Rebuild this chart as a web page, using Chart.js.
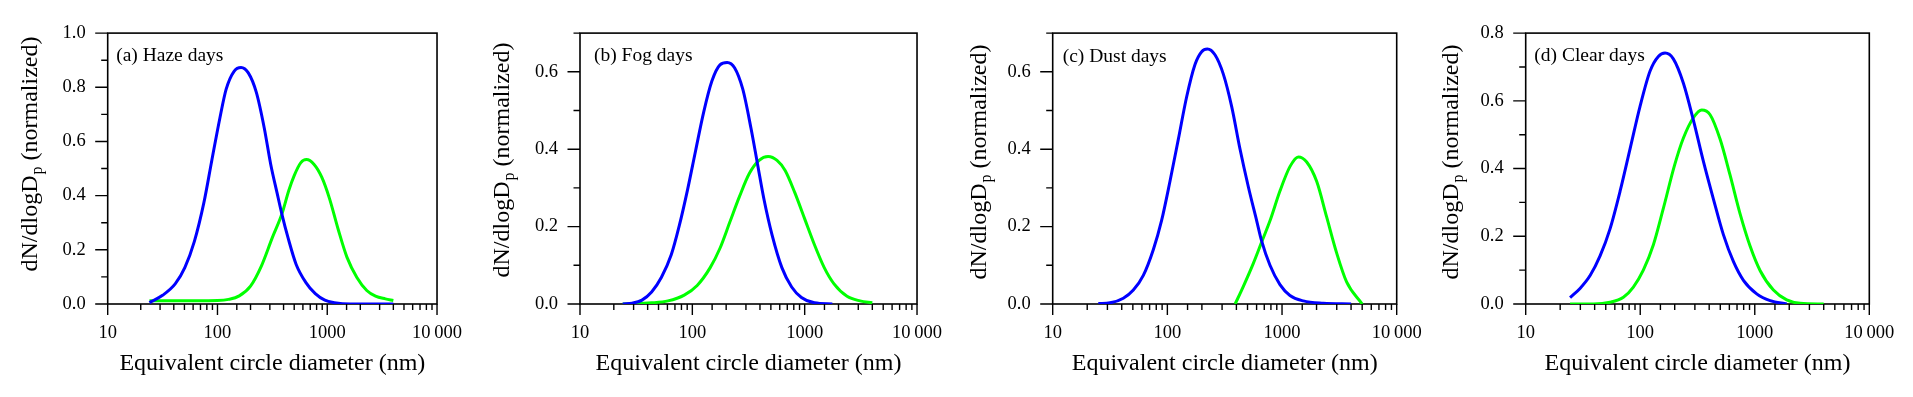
<!DOCTYPE html>
<html><head><meta charset="utf-8">
<script src="https://cdn.jsdelivr.net/npm/chart.js@4.4.1/dist/chart.umd.min.js"></script>
<style>
html,body{margin:0;padding:0;background:#fff;width:1913px;height:397px;overflow:hidden;}
.p{position:absolute;top:0;height:397px;}
canvas{display:block;}
</style></head><body>
<div class="p" style="left:0px;width:480px"><canvas id="ca" width="480" height="397"></canvas></div>
<div class="p" style="left:480px;width:480px"><canvas id="cb" width="480" height="397"></canvas></div>
<div class="p" style="left:960px;width:480px"><canvas id="cc" width="480" height="397"></canvas></div>
<div class="p" style="left:1440px;width:473px"><canvas id="cd" width="473" height="397"></canvas></div>
<script>
// ---------- data (diameter in nm, dN/dlogDp normalized) ----------
const panelTitles = ['(a) Haze days', '(b) Fog days', '(c) Dust days', '(d) Clear days'];
const yMaxes = [1.0, 0.7, 0.7, 0.8];
const xTickLabels = {10: '10', 100: '100', 1000: '1000', 10000: '10\u2009000'};
const xTitle = 'Equivalent circle diameter (nm)';

const hazeBlueD = [24, 31.6, 41.2, 50.4, 61.5, 75.2, 88.7, 105, 120, 141.6, 164, 191, 226, 267, 305, 349, 386, 441, 521, 637, 778, 951, 1162, 1622, 4000];
const hazeBlueN = [0.005, 0.032, 0.074, 0.134, 0.23, 0.374, 0.529, 0.685, 0.793, 0.859, 0.873, 0.853, 0.781, 0.649, 0.517, 0.41, 0.332, 0.242, 0.146, 0.080, 0.038, 0.014, 0.005, 0, 0];
const hazeGreenD = [24, 40, 63, 100, 126, 158, 200, 251, 316, 386, 447, 501, 575, 646, 759, 891, 1047, 1259, 1514, 1862, 2291, 2754, 3388, 4000];
const hazeGreenN = [0.012, 0.012, 0.012, 0.013, 0.017, 0.03, 0.066, 0.14, 0.245, 0.332, 0.42, 0.475, 0.522, 0.533, 0.515, 0.468, 0.39, 0.275, 0.172, 0.098, 0.05, 0.029, 0.019, 0.013];

const fogBlueD = [24, 29.1, 35.6, 43.4, 53.1, 64.9, 76.6, 90.6, 106.9, 126.2, 149.3, 176.2, 204.2, 238.2, 281.2, 332.7, 380.2, 434.5, 512.9, 626.6, 765.6, 935.4, 1222, 1762];
const fogBlueN = [0, 0.002, 0.01, 0.031, 0.069, 0.127, 0.203, 0.295, 0.396, 0.496, 0.576, 0.618, 0.624, 0.61, 0.555, 0.454, 0.362, 0.27, 0.178, 0.094, 0.044, 0.017, 0.003, 0];
const fogGreenD = [24, 43.4, 60.7, 84.7, 110.4, 144.2, 176.2, 215.3, 263, 321.4, 392.6, 473, 567.5, 669.9, 818.5, 1000, 1222, 1493, 1824, 2382, 3112, 4000];
const fogGreenN = [0, 0.003, 0.008, 0.023, 0.048, 0.094, 0.144, 0.211, 0.278, 0.337, 0.371, 0.381, 0.371, 0.345, 0.287, 0.22, 0.153, 0.094, 0.052, 0.02, 0.008, 0.003];

const dustBlueD = [25, 31.6, 41.3, 50.5, 61.7, 75.5, 89.1, 105.4, 124.7, 147.2, 174.2, 199.1, 223.4, 260, 307.6, 363.9, 429.5, 508.2, 601.2, 663.7, 785.2, 959.4, 1172, 1535, 2291, 4000];
const dustBlueN = [0.001, 0.003, 0.015, 0.036, 0.074, 0.141, 0.216, 0.317, 0.426, 0.535, 0.619, 0.652, 0.659, 0.644, 0.594, 0.51, 0.401, 0.303, 0.215, 0.163, 0.1, 0.05, 0.022, 0.008, 0.002, 0];
const dustGreenD = [390, 459, 562, 664, 785, 959, 1172, 1387, 1641, 2004, 2449, 2992, 3656, 5000];
const dustGreenN = [0, 0.045, 0.105, 0.16, 0.215, 0.292, 0.355, 0.38, 0.367, 0.317, 0.225, 0.132, 0.057, 0];

const clearBlueD = [24.4, 29.8, 36.5, 44.6, 54.5, 66.7, 81.5, 99.5, 121.9, 143.9, 164.8, 194.5, 238.2, 291.1, 355.6, 435.5, 532.1, 651.6, 796.2, 1040, 1361, 1901];
const clearBlueN = [0.019, 0.046, 0.084, 0.142, 0.222, 0.333, 0.458, 0.583, 0.688, 0.731, 0.741, 0.724, 0.652, 0.543, 0.422, 0.31, 0.205, 0.125, 0.07, 0.03, 0.01, 0];
const clearGreenD = [24.4, 39, 54.5, 71.3, 87.1, 106.4, 130.3, 158.5, 199.5, 238.2, 291.1, 344.4, 407.4, 497.7, 608.1, 744.7, 909.9, 1112, 1455, 1901, 2489, 4000];
const clearGreenN = [0, 0, 0.005, 0.02, 0.05, 0.1, 0.175, 0.28, 0.41, 0.49, 0.55, 0.573, 0.559, 0.487, 0.381, 0.266, 0.171, 0.099, 0.041, 0.012, 0.002, 0];

const blueSeries = [[hazeBlueD, hazeBlueN], [fogBlueD, fogBlueN], [dustBlueD, dustBlueN], [clearBlueD, clearBlueN]];
const greenSeries = [[hazeGreenD, hazeGreenN], [fogGreenD, fogGreenN], [dustGreenD, dustGreenN], [clearGreenD, clearGreenN]];

// ---------- layout ----------
const FONT = '"Liberation Serif", "Times New Roman", serif';
const layouts = [
  {id: 'ca', yw: 107.7, rp: 27.7, tOff: 71, tCy: 154, lx: 8.5, ly: 22.5},
  {id: 'cb', yw: 100,   rp: 35,   tOff: 71, tCy: 160, lx: 14,  ly: 22.5},
  {id: 'cc', yw: 92.7,  rp: 43.3, tOff: 66.5, tCy: 162, lx: 10, ly: 24},
  {id: 'cd', yw: 85.7,  rp: 43.7, tOff: 67.5, tCy: 162, lx: 8.6, ly: 22.5}
];

function toPts(D, N) { return D.map((d, i) => ({x: d, y: N[i]})); }
function isDecade(v) { const l = Math.log10(v); return Math.abs(l - Math.round(l)) < 1e-6; }
function isMajorY(v) { return Math.round(v * 10) % 2 === 0; }

function panelPlugin(L, title) {
  return {
    id: 'panelDeco',
    beforeDatasetsDraw(chart) {
      const {ctx, chartArea: a, scales: {x, y}} = chart;
      ctx.save();
      ctx.strokeStyle = '#000';
      ctx.lineWidth = 1.6;
      ctx.strokeRect(a.left, a.top, a.right - a.left, a.bottom - a.top);
      ctx.lineWidth = 1.4;
      ctx.beginPath();
      x.ticks.forEach(t => {
        const px = x.getPixelForValue(t.value);
        ctx.moveTo(px, a.bottom);
        ctx.lineTo(px, a.bottom + (isDecade(t.value) ? 11 : 6));
      });
      y.ticks.forEach(t => {
        const py = y.getPixelForValue(t.value);
        ctx.moveTo(a.left, py);
        ctx.lineTo(a.left - (isMajorY(t.value) ? 12.5 : 6.5), py);
      });
      ctx.stroke();
      ctx.restore();
    },
    afterDraw(chart) {
      const {ctx, chartArea: a} = chart;
      ctx.save();
      ctx.fillStyle = '#000';
      // panel label
      ctx.font = '19.5px ' + FONT;
      ctx.textBaseline = 'middle';
      ctx.textAlign = 'left';
      ctx.fillText(title, a.left + L.lx, a.top + L.ly);
      // y axis title with subscript
      const big = '24px ' + FONT, small = '16px ' + FONT;
      const t1 = 'dN/dlogD', t2 = 'p', t3 = ' (normalized)';
      ctx.font = big; const w1 = ctx.measureText(t1).width, w3 = ctx.measureText(t3).width;
      ctx.font = small; const w2 = ctx.measureText(t2).width;
      const total = w1 + w2 + w3 + 1;
      ctx.translate(a.left - L.tOff, L.tCy);
      ctx.rotate(-Math.PI / 2);
      ctx.textBaseline = 'alphabetic';
      let sx = -total / 2;
      ctx.font = big; ctx.fillText(t1, sx, 0);
      ctx.font = small; ctx.fillText(t2, sx + w1 + 1, 5);
      ctx.font = big; ctx.fillText(t3, sx + w1 + 1 + w2, 0);
      ctx.restore();
    }
  };
}

panelTitles.forEach((title, i) => {
  const L = layouts[i];
  new Chart(document.getElementById(L.id), {
    type: 'line',
    data: {
      datasets: [
        {data: toPts(blueSeries[i][0], blueSeries[i][1]), borderColor: '#0000ff', borderWidth: 3, pointRadius: 0, cubicInterpolationMode: 'monotone', fill: false},
        {data: toPts(greenSeries[i][0], greenSeries[i][1]), borderColor: '#00ff00', borderWidth: 3, pointRadius: 0, cubicInterpolationMode: 'monotone', fill: false}
      ]
    },
    options: {
      responsive: false,
      animation: false,
      devicePixelRatio: 1,
      layout: {padding: {top: 25.7, right: L.rp, left: 0, bottom: 0}},
      plugins: {legend: {display: false}, tooltip: {enabled: false}},
      scales: {
        x: {
          type: 'logarithmic', min: 10, max: 10000, position: 'bottom',
          grid: {display: false, drawTicks: false}, border: {display: false},
          ticks: {autoSkip: false, maxRotation: 0, padding: 18, color: '#000', font: {family: FONT, size: 18.5},
            callback: v => isDecade(v) ? (xTickLabels[Math.round(v)] || '') : ''},
          title: {display: true, text: xTitle, color: '#000', font: {family: FONT, size: 24}, padding: {top: 0, bottom: 19}},
          afterFit: s => { s.height = 93; }
        },
        y: {
          type: 'linear', min: 0, max: yMaxes[i], position: 'left',
          grid: {display: false, drawTicks: false}, border: {display: false},
          ticks: {stepSize: 0.1, autoSkip: false, padding: 22, color: '#000', font: {family: FONT, size: 18.5},
            callback: v => isMajorY(v) ? v.toFixed(1) : ''},
          afterFit: s => { s.width = L.yw; }
        }
      }
    },
    plugins: [panelPlugin(L, title)]
  });
});
</script>
</body></html>
